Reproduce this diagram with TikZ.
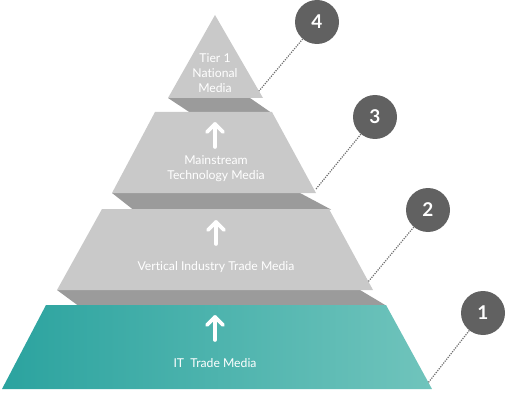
\documentclass[tikz,border=0pt]{standalone}
\usepackage{fontspec}
\setmainfont{Lato}[Ligatures=NoCommon]
\usetikzlibrary{calc}
\definecolor{tiergray}{HTML}{C9C9C9}
\definecolor{bandgray}{HTML}{9B9B9B}
\definecolor{circgray}{HTML}{616161}
\definecolor{dotgray}{HTML}{6E6E6E}
\definecolor{tealL}{HTML}{2BA39F}
\definecolor{tealR}{HTML}{70C4BC}
\tikzset{
  tier/.style={fill=tiergray, draw=none},
  band/.style={fill=bandgray, draw=none},
  label/.style={text=white, font=\fontsize{12.2}{15}\selectfont, align=center, inner sep=0pt},
  numcirc/.style={circle, fill=circgray, minimum size=44pt, inner sep=0pt, text=white, font=\fontsize{19}{19}\selectfont\bfseries},
  leader/.style={draw=dotgray, line width=1.2pt, dash pattern=on 1.2pt off 1.2pt},
  uparrow/.style={draw=white, line width=3.6pt, line cap=round, line join=round}
}
\begin{document}
\begin{tikzpicture}[x=1pt,y=-1pt]
\useasboundingbox (0,0) rectangle (506,401);
% dark bands
\fill[band] (168,98) -- (250,98) -- (271,112.5) -- (190,112.5) -- cycle;
\fill[band] (112,193) -- (300,193) -- (331,209.5) -- (133,209.5) -- cycle;
\fill[band] (57,290) -- (360,290) -- (386,305.5) -- (78,305.5) -- cycle;
% tiers
\fill[tier] (215,15) -- (263,98) -- (168,98) -- cycle;
\fill[tier] (155,112) -- (272,112) -- (316,193) -- (112,193) -- cycle;
\fill[tier] (102,209) -- (329,209) -- (373,290) -- (57,290) -- cycle;
\shade[left color=tealL, right color=tealR] (46,305) -- (386,305) -- (432,389) -- (2,389) -- cycle;
% arrows
\foreach \x/\ya/\yb in {215/124/147, 216/222/244, 215/317/340}{
  \draw[uparrow] (\x,\yb) -- (\x,\ya);
  \draw[uparrow] (\x-8,\ya+8) -- (\x,\ya) -- (\x+8,\ya+8);
}
% labels
\node[label] (l4) at (215,73) {Tier 1\\National\\Media};
\node[label] (l3) at (216,169) {Mainstream\\Technology Media};
\node[label] (l2) at (216,267) {Vertical Industry Trade Media};
\node[label] (l1) at (215,363) {IT\ \ Trade Media};
% number circles
\node[numcirc] (c4) at (317,22) {4};
\node[numcirc] (c3) at (375,117) {3};
\node[numcirc] (c2) at (428,210) {2};
\node[numcirc] (c1) at (483,313) {1};
% leader end points
\coordinate (e4) at (259,91);
\coordinate (e3) at (316,189);
\coordinate (e2) at (368,282);
\coordinate (e1) at (428,383);
\draw[leader] (c4) -- (e4);
\draw[leader] (c3) -- (e3);
\draw[leader] (c2) -- (e2);
\draw[leader] (c1) -- (e1);
\end{tikzpicture}
\end{document}
